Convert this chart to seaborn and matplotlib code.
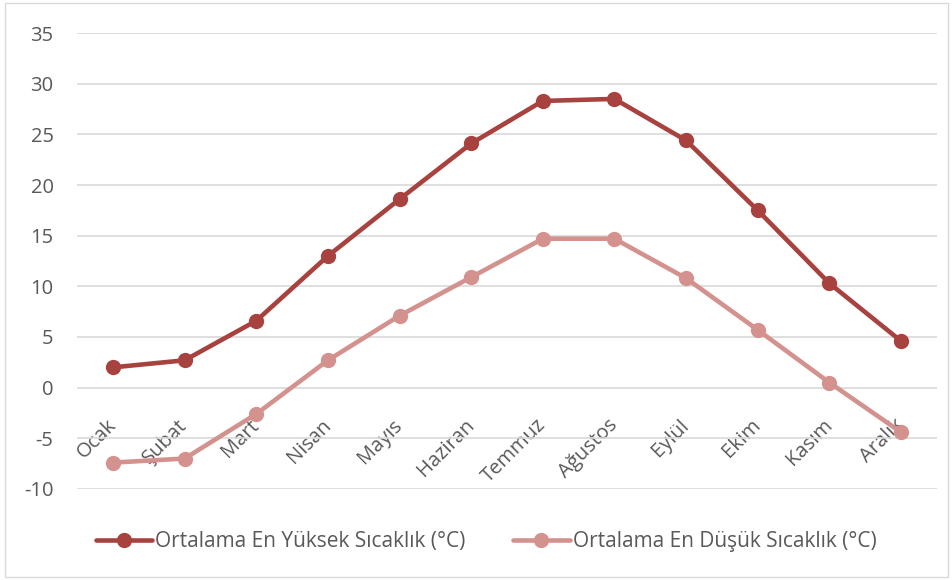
import seaborn as sns
import matplotlib.pyplot as plt
import pandas as pd
from matplotlib.patches import Rectangle

aylar = ['Ocak', 'Şubat', 'Mart', 'Nisan', 'Mayıs', 'Haziran',
         'Temmuz', 'Ağustos', 'Eylül', 'Ekim', 'Kasım', 'Aralık']
en_yuksek = [2.0, 2.7, 6.6, 13.0, 18.6, 24.1, 28.3, 28.5, 24.4, 17.5, 10.3, 4.6]
en_dusuk = [-7.4, -7.0, -2.6, 2.7, 7.1, 10.9, 14.7, 14.7, 10.8, 5.7, 0.5, -4.4]

seri_yuksek = 'Ortalama En Yüksek Sıcaklık (°C)'
seri_dusuk = 'Ortalama En Düşük Sıcaklık (°C)'
renkler = {seri_yuksek: '#A8423F', seri_dusuk: '#D4928F'}

df = pd.DataFrame({
    'ay': aylar * 2,
    'x': list(range(len(aylar))) * 2,
    'sicaklik': en_yuksek + en_dusuk,
    'seri': [seri_yuksek] * len(aylar) + [seri_dusuk] * len(aylar),
})

sns.set_style('white')
plt.rcParams['font.family'] = ['Open Sans', 'DejaVu Sans']
plt.rcParams['axes.unicode_minus'] = False
gri = '#595959'
yazi = 14.5

fig = plt.figure(figsize=(9.53, 5.80), dpi=100)
ax = fig.add_axes([0.081, 0.157, 0.902, 0.786])

sns.lineplot(data=df, x='x', y='sicaklik', hue='seri', palette=renkler,
             marker='o', markersize=11, markeredgewidth=0, linewidth=3.3,
             ax=ax, legend=False, sort=False)

ax.set_xlim(-0.5, len(aylar) - 0.5)
ax.set_ylim(-10, 35)
ax.set_yticks(range(-10, 40, 5))
ax.set_xticks(range(len(aylar)))
ax.set_xticklabels(aylar)
ax.yaxis.grid(True, color='#D9D9D9', linewidth=1.2)
ax.set_axisbelow(True)
for s in ['top', 'right', 'left']:
    ax.spines[s].set_visible(False)
ax.spines['bottom'].set_position(('data', 0))
ax.spines['bottom'].set_visible(False)
ax.tick_params(axis='y', length=0, pad=17, labelsize=yazi, labelcolor=gri)
ax.tick_params(axis='x', length=0, pad=25, labelsize=yazi, labelcolor=gri)
plt.setp(ax.get_xticklabels(), rotation=45, ha='right', va='center',
         rotation_mode='anchor')
ax.set_xlabel('')
ax.set_ylabel('')

tutamaclar = [plt.Line2D([], [], color=renkler[s], marker='o', markersize=11,
                         markeredgewidth=0, linewidth=3.3)
              for s in [seri_yuksek, seri_dusuk]]
fig.legend(tutamaclar, [seri_yuksek, seri_dusuk], loc='center',
           bbox_to_anchor=(0.51, 0.066), ncol=2, frameon=False,
           fontsize=15, labelcolor=gri, handlelength=2.7, handletextpad=0.15,
           columnspacing=2.3)

fig.patches.append(Rectangle((0.005, 0.005), 0.99, 0.99, transform=fig.transFigure,
                             fill=False, edgecolor='#D9D9D9', linewidth=1))

fig.savefig('out.png', dpi=100)
